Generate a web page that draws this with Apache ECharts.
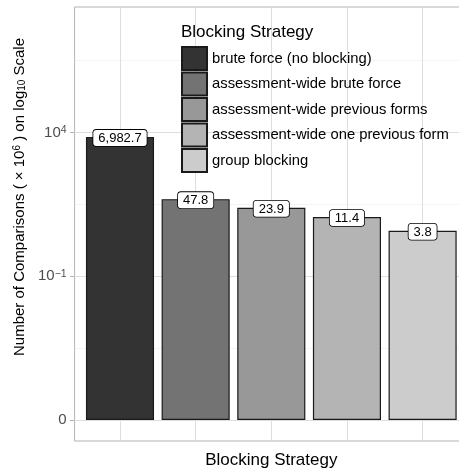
<!DOCTYPE html>
<html><head><meta charset="utf-8">
<script src="https://cdn.jsdelivr.net/npm/echarts@6/dist/echarts.min.js"></script>
<style>html,body{margin:0;padding:0;background:#fff}#c{width:459px;height:470px}</style>
</head><body><div id="c"></div>
<script>
// ---- data ----
const categories = [
  'brute force (no blocking)',
  'assessment-wide brute force',
  'assessment-wide previous forms',
  'assessment-wide one previous form',
  'group blocking'
];
const comparisonsMillions = [6982.7, 47.8, 23.9, 11.4, 3.8];
const barFills = ['#333333', '#737373', '#989898', '#b4b4b4', '#cccccc'];
const yMajorBreaks = [0, 0.1, 10000];            // in millions
const yMajorLabels = ['0', '10{sup|\u22121}', '10{sup|4}'];
const yMinorBreaks = [0.000316, 31.62, 3162278]; // in millions

// pseudo-log (sigma = 1 comparison, base 10) on raw counts
const pseudoLog = v => Math.asinh(v * 1e6 / 2) / Math.LN10;
const fmt = v => v.toLocaleString('en-US', {minimumFractionDigits: 1, maximumFractionDigits: 1});
const FONT = "'Liberation Sans', Arial, sans-serif";

const majorT = yMajorBreaks.map(pseudoLog);
const gridMajor = {color: '#dedede', width: 1, type: 'solid'};
const gridMinor = {color: '#ececec', width: 0.6, type: 'solid'};

const series = categories.map((name, i) => ({
  name,
  type: 'bar',
  barGap: '-100%',
  barWidth: '90%',
  z: 3,
  encode: {x: 0, y: 1},
  data: [{value: [i + 1, pseudoLog(comparisonsMillions[i]), comparisonsMillions[i]]}],
  itemStyle: {color: barFills[i], borderColor: '#1a1a1a', borderWidth: 1.2},
  label: {
    show: true, position: 'top', distance: -9,
    formatter: p => fmt(p.value[2]),
    color: '#000', fontSize: 13, fontFamily: FONT,
    backgroundColor: '#ffffff', borderColor: '#000', borderWidth: 0.8, borderRadius: 3,
    padding: [2, 5, 1, 5]
  },
  emphasis: {disabled: true}
}));

series[0].markLine = {
  silent: true, z: 1, symbol: ['none', 'none'], animation: false,
  label: {show: false}, emphasis: {disabled: true},
  data: [
    ...yMinorBreaks.map(v => ({yAxis: pseudoLog(v), lineStyle: gridMinor})),
    ...yMajorBreaks.map(v => ({yAxis: pseudoLog(v), lineStyle: gridMajor})),
    ...categories.map((c, i) => ({xAxis: i + 1, lineStyle: gridMajor}))
  ]
};

const chart = echarts.init(document.getElementById('c'), null, {renderer: 'canvas'});
chart.setOption({
  animation: false,
  backgroundColor: '#fff',
  textStyle: {fontFamily: FONT},
  title: {
    text: 'Blocking Strategy', left: 181, top: 24, padding: 0,
    textStyle: {fontSize: 17, fontWeight: 'normal', color: '#000', fontFamily: FONT}
  },
  legend: {
    orient: 'vertical', left: 181, top: 46, padding: 0,
    itemWidth: 25, itemHeight: 23, itemGap: 0.5, icon: 'rect',
    data: categories,
    textStyle: {fontSize: 14.8, color: '#000', fontFamily: FONT},
    selectedMode: false
  },
  grid: {
    left: 74.6, top: 7, width: 393.4, bottom: 29,
    show: true, borderColor: '#b3b3b3', borderWidth: 1, backgroundColor: '#fff',
    containLabel: false, outerBoundsMode: 'none'
  },
  xAxis: {
    type: 'value', min: 0.4, max: 5.6,
    name: 'Blocking Strategy', nameLocation: 'middle', nameGap: 11,
    nameTextStyle: {fontSize: 17, color: '#000', fontFamily: FONT},
    axisLine: {show: false},
    axisLabel: {show: false},
    axisTick: {show: true, customValues: [1, 2, 3, 4, 5], length: 4.5, lineStyle: {color: '#b3b3b3', width: 1}},
    splitLine: {show: false}
  },
  yAxis: {
    type: 'value', min: -0.73, max: 14.36,
    name: 'Number of Comparisons ( \u00d7 10{sup|6} ) on log{sub|10} Scale',
    nameLocation: 'middle', nameRotate: 90, nameGap: 42,
    nameTextStyle: {
      fontSize: 15, color: '#000', fontFamily: FONT, padding: [0, 0, 0, 54],
      rich: {
        sup: {fontSize: 10, verticalAlign: 'top', color: '#000', fontFamily: FONT},
        sub: {fontSize: 10, verticalAlign: 'bottom', color: '#000', fontFamily: FONT}
      }
    },
    axisLine: {show: false},
    axisTick: {show: true, customValues: majorT, length: 4.5, lineStyle: {color: '#b3b3b3', width: 1}},
    axisLabel: {
      customValues: majorT, margin: 8, fontSize: 15, color: '#4d4d4d', fontFamily: FONT,
      formatter: val => {
        const idx = majorT.findIndex(t => Math.abs(t - val) < 1e-6);
        return idx >= 0 ? yMajorLabels[idx] : '';
      },
      rich: {sup: {fontSize: 10.5, verticalAlign: 'top', color: '#4d4d4d', fontFamily: FONT}}
    },
    splitLine: {show: false}
  },
  series
});
</script>
</body></html>
